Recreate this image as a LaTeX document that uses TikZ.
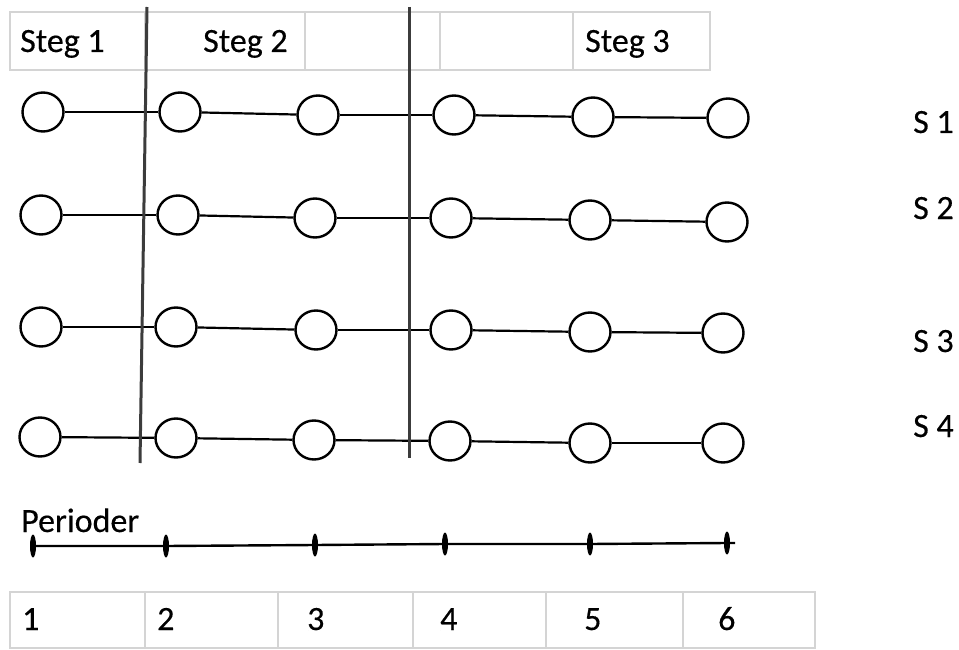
\documentclass[tikz,border=0pt]{standalone}
\usepackage{fontspec}
\setmainfont{Carlito}
\newfontfamily\lblfont{Carlito}[FakeBold=0.35]
\usetikzlibrary{shapes.geometric}
\definecolor{cellgray}{HTML}{D4D4D4}
\definecolor{bargray}{HTML}{3C3C3C}
\tikzset{
  cellline/.style={draw=cellgray, line width=1.6pt},
  bar/.style={draw=bargray, line width=3pt},
  state/.style={draw=black, ellipse, line width=2.4pt, minimum width=41pt, minimum height=39pt, inner sep=0pt},
  link/.style={draw=black, line width=2.2pt},
  lbl/.style={font=\fontsize{34}{40}\lblfont, inner sep=0pt, anchor=base west, text=black},
  tick/.style={ellipse, fill=black, minimum width=6pt, minimum height=23pt, inner sep=0pt},
  axis/.style={draw=black, line width=2.4pt}
}
\begin{document}
\begin{tikzpicture}[x=1pt,y=-1pt]
\useasboundingbox (0,0) rectangle (959,650);
% top table
\draw[cellline] (10,12) rectangle (710,70);
\foreach \x in {145,305,409,440,573}{\draw[cellline] (\x,12) -- (\x,70);}
\node[lbl] (steg1) at (20,52) {Steg 1};
\node[lbl] (steg2) at (203,52) {Steg 2};
\node[lbl] (steg3) at (585,52) {Steg 3};
% bottom table
\draw[cellline] (10,592) rectangle (815,648);
\foreach \x in {145,278,413,546,683}{\draw[cellline] (\x,592) -- (\x,648);}
\node[lbl] (p1) at (22,630) {1};
\node[lbl] (p2) at (157,630) {2};
\node[lbl] (p3) at (307,630) {3};
\node[lbl] (p4) at (440,630) {4};
\node[lbl] (p5) at (584,630) {5};
\node[lbl] (p6) at (718,630) {6};
% row labels
\node[lbl] (s1) at (913,133) {S 1};
\node[lbl] (s2) at (913,219) {S 2};
\node[lbl] (s3) at (913,352) {S 3};
\node[lbl] (s4) at (913,437) {S 4};
% stage dividers
\coordinate (b1t) at (147,7);
\coordinate (b1b) at (140,463);
\coordinate (b2t) at (409,7);
\coordinate (b2b) at (409,458);
% states
\node[state] (a1) at (43,112) {};
\node[state] (a2) at (180,112) {};
\node[state] (a3) at (318,115) {};
\node[state] (a4) at (454,115) {};
\node[state] (a5) at (593,117) {};
\node[state] (a6) at (728,118) {};
\node[state] (b1) at (41,215) {};
\node[state] (b2) at (178,215) {};
\node[state] (b3) at (315,218) {};
\node[state] (b4) at (451,218) {};
\node[state] (b5) at (590,220) {};
\node[state] (b6) at (727,222) {};
\node[state] (c1) at (41,327) {};
\node[state] (c2) at (176,327) {};
\node[state] (c3) at (316,330) {};
\node[state] (c4) at (451,330) {};
\node[state] (c5) at (590,332) {};
\node[state] (c6) at (723,333) {};
\node[state] (d1) at (40,437) {};
\node[state] (d2) at (176,438) {};
\node[state] (d3) at (314,440) {};
\node[state] (d4) at (450,441) {};
\node[state] (d5) at (590,443) {};
\node[state] (d6) at (723,443) {};
\foreach \r in {a,b,c,d}{
  \draw[link] (\r1) -- (\r2);
  \draw[link] (\r2) -- (\r3);
  \draw[link] (\r3) -- (\r4);
  \draw[link] (\r4) -- (\r5);
  \draw[link] (\r5) -- (\r6);
}
\draw[bar] (b1t) -- (b1b);
\draw[bar] (b2t) -- (b2b);
% periods axis
\node[lbl] (per) at (21,532) {Perioder};
\node[tick] (t1) at (33,546) {};
\node[tick] (t2) at (166,546) {};
\node[tick] (t3) at (315,545) {};
\node[tick] (t4) at (445,544) {};
\node[tick] (t5) at (590,544) {};
\node[tick] (t6) at (727,543) {};
\coordinate (axend) at (735,543);
\draw[axis] (t1.center) -- (t2.center) -- (t3.center) -- (t4.center) -- (t5.center) -- (t6.center) -- (axend);
\end{tikzpicture}
\end{document}
